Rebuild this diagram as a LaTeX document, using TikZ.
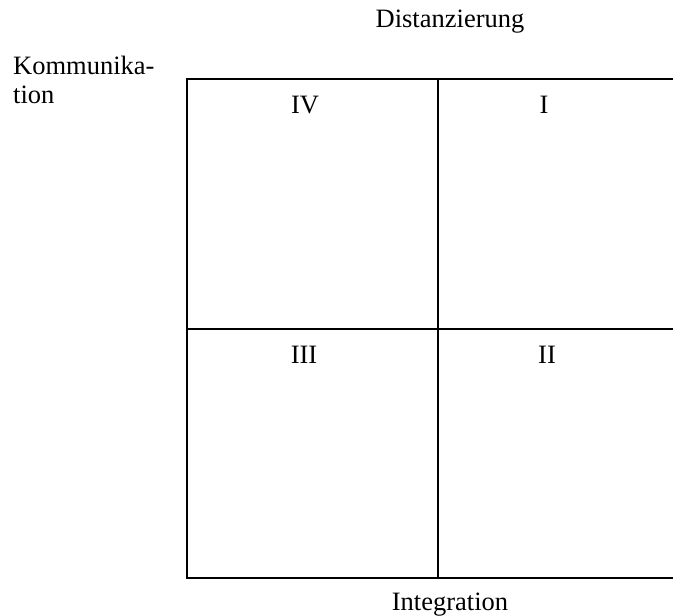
\documentclass[tikz,border=0pt]{standalone}
\usepackage{fontspec}
\setmainfont{Liberation Serif}
\begin{document}
\begin{tikzpicture}[x=1pt,y=-1pt,
    lbl/.style={anchor=base,inner sep=0pt,font=\fontsize{26.5}{29}\selectfont},
    gridline/.style={line width=2pt,black}]
                \useasboundingbox (0,0) rectangle (673,616);
                % Grid corners
                \coordinate (tl) at (187,79);
                \coordinate (tm) at (437.5,79);
                \coordinate (tr) at (673,79);
                \coordinate (ml) at (187,329);
                \coordinate (mr) at (673,329);
                \coordinate (bl) at (187,578);
                \coordinate (bm) at (437.5,578);
                \coordinate (br) at (673,578);
                % Lines
                \draw[gridline] (tr) -- (tl) -- (bl) -- (br);
                \draw[gridline] (ml) -- (mr);
                \draw[gridline] (tm) -- (bm);
                % Quadrant labels
                \foreach \x/\y/\name/\txt in {305/113/qiv/IV, 544/113/qi/I, 304/363/qiii/III, 547/363/qii/II}
                    \node[lbl] (\name) at (\x,\y) {\txt};
                % Axis labels
                \node[lbl] (dist) at (450,27) {Distanzierung};
                \node[lbl] (integ) at (450,610) {Integration};
                \node[lbl,anchor=base west] (komm) at (13,74) {Kommunika-};
                \node[lbl,anchor=base west] (komm2) at (13,103) {tion};
            \end{tikzpicture}
\end{document}
